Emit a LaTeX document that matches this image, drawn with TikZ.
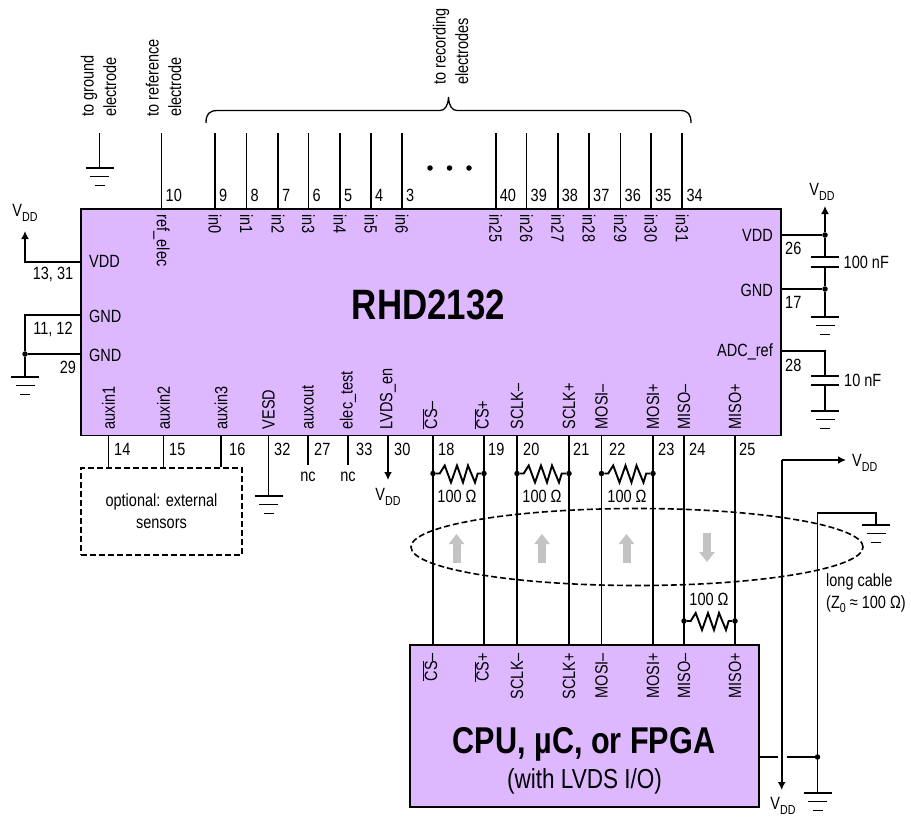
\documentclass[tikz,border=0pt]{standalone}
\usepackage{fontspec}
\setmainfont[FakeStretch=0.82]{Liberation Sans}
\usetikzlibrary{arrows.meta,shapes.geometric}
\definecolor{chipfill}{RGB}{221,184,255}
\definecolor{flowgrey}{RGB}{195,195,195}
\newcommand{\vddlabel}{V\raisebox{-.28em}{\fontsize{13}{13}\selectfont DD}}
\newcommand{\csbar}{$\overline{\hbox{CS}}$}
\tikzset{
  wire/.style={line width=1.9pt,line cap=butt},
  chip/.style={draw,line width=1.8pt,fill=chipfill,inner sep=0pt,rectangle},
  txt/.style={inner sep=0pt,font=\fontsize{17.7}{20}\selectfont},
  pinnum/.style={txt,anchor=west},
  uplabel/.style={txt,rotate=90,anchor=west},
  cpulabel/.style={txt,rotate=90,anchor=east},
  downlabel/.style={txt,rotate=-90,anchor=west},
  arrowwire/.style={wire,-{Latex[length=8pt,width=8pt]}},
  dot/.style={circle,fill=black,inner sep=0pt,minimum size=5.5pt},
  capplate/.style={line width=1.8pt},
  longdash/.style={dash pattern=on 6pt off 3pt},
  zig/.style={insert path={-- ++(6.7,0) -- ++(5,-8) -- ++(6.3,17) -- ++(6,-17) -- ++(6,17) -- ++(5,-17) -- ++(7,17) -- ++(2.7,-9)}},
  gnd/.pic={
    \draw[line width=1.8pt] (-14,0) -- (14,0);
    \draw[line width=1.8pt] (-9.5,8.5) -- (9.5,8.5);
    \draw[line width=1.8pt] (-5,17.5) -- (5,17.5);
  },
  flow/.style={line width=8pt,flowgrey,-{Triangle[length=10pt,width=15pt]}},
}
\begin{document}
\begin{tikzpicture}[x=1pt,y=-1pt]
\useasboundingbox (0,0) rectangle (911,817);
% main chip
\node[chip,minimum width=700pt,minimum height=226.5pt] (rhd) at (431,322.3) {};
\node[inner sep=0pt,font=\fontsize{42.5}{42.5}\selectfont\bfseries] (rhdname) at (428.5,305) {RHD2132};
% electrodes text
\node[txt,rotate=90,anchor=north west,align=left,font=\fontsize{17.7}{22.5}\selectfont] (tgnd) at (80.5,117) {to ground\\electrode};
\node[txt,rotate=90,anchor=north west,align=left,font=\fontsize{17.7}{22.5}\selectfont] (tref) at (145.5,117) {to reference\\electrode};
\node[txt,rotate=90,anchor=north west,align=left,font=\fontsize{17.7}{22.5}\selectfont] (trec) at (432.5,85) {to recording\\electrodes};
% brace
\draw[line width=1.3pt] (206,123) .. controls (206,114) and (209,110.5) .. (218,110.5) -- (440,110.5) .. controls (445,110.5) and (448,106) .. (448.5,97) .. controls (449,106) and (452,110.5) .. (457,110.5) -- (680,110.5) .. controls (688,110.5) and (691,114) .. (691,123);
% ground electrode
\coordinate (gtop) at (99.5,133);
\coordinate (gbase) at (99.5,168);
\draw[wire] (gtop) -- (gbase);
\pic at (gbase) {gnd};
% reference pin
\coordinate (top10) at (161.5,133);
\draw[wire] (top10) -- (top10 |- rhd.north);
\node[pinnum] (num10) at (165.5,195) {10};
\node[downlabel] (lab10) at (161.5,214.5) {ref\_elec};
% top pins
\foreach \x/\n/\l in {215/9/in0,246.5/8/in1,278/7/in2,308.5/6/in3,340/5/in4,371/4/in5,402/3/in6,495.7/40/in25,526.5/39/in26,557.7/38/in27,589/37/in28,620.5/36/in29,651/35/in30,682.3/34/in31}{
  \coordinate (top\n) at (\x,133);
  \draw[wire] (top\n) -- (top\n |- rhd.north);
  \node[pinnum] (num\n) at (\x+4,195) {\n};
  \node[downlabel] (lab\n) at (\x,214.5) {\l};
}
% ellipsis
\foreach \x/\n in {430/a,449.5/b,469/c}{
  \node[circle,fill=black,inner sep=0pt,minimum size=5.5pt] (ell\n) at (\x,168) {};
}
% left side
\coordinate (lvddcorner) at (25,262);
\coordinate (lvddtip) at (25,231);
\node[inner sep=0pt,txt] (lvdd) at (25,213) {\vddlabel};
\draw[arrowwire] (rhd.west |- lvddcorner) -- (lvddcorner) -- (lvddtip);
\node[txt,anchor=west] (plvdd) at (89,261) {VDD};
\node[txt,anchor=west] (plgnd1) at (89,316) {GND};
\node[txt,anchor=west] (plgnd2) at (89,355) {GND};
\node[txt] (n1331) at (53,274) {13, 31};
\node[txt] (n1112) at (53,329) {11, 12};
\node[txt] (n29) at (68,367) {29};
\coordinate (lg1) at (25,315);
\node[dot] (lg2) at (25,354) {};
\coordinate (lgb) at (25,377);
\draw[wire] (rhd.west |- lg1) -- (lg1) -- (lg2);
\draw[wire] (rhd.west |- lg2) -- (lg2) -- (lgb);
\pic at (lgb) {gnd};
% right side
\node[dot] (rv) at (825,235) {};
\node[dot] (rg) at (825,289) {};
\coordinate (rvtip) at (825,206);
\coordinate (c1a) at (825,257);
\coordinate (c1b) at (825,267);
\coordinate (rgb) at (825,317);
\draw[wire] (rhd.east |- rv) -- (rv);
\draw[wire] (rhd.east |- rg) -- (rg);
\draw[arrowwire] (rv) -- (rvtip);
\draw[wire] (rv) -- (c1a);
\draw[wire] (c1b) -- (rg) -- (rgb);
\draw[capplate] ([xshift=-14pt]c1a) -- ([xshift=14pt]c1a);
\draw[capplate] ([xshift=-14pt]c1b) -- ([xshift=14pt]c1b);
\pic at (rgb) {gnd};
\node[txt] (rvdd) at (822,192) {\vddlabel};
\node[txt,anchor=west] (cap1) at (843.5,262) {100 nF};
\node[txt,anchor=east] (prvdd) at (773,235) {VDD};
\node[txt,anchor=east] (prgnd) at (773,290) {GND};
\node[txt,anchor=east] (pradc) at (773,352) {ADC\_ref};
\node[txt,anchor=west] (n26) at (785,248) {26};
\node[txt,anchor=west] (n17) at (785,302) {17};
\node[txt,anchor=west] (n28) at (785,365) {28};
\coordinate (radc) at (825,351);
\coordinate (c2a) at (825,376);
\coordinate (c2b) at (825,385);
\coordinate (adcb) at (825,411);
\draw[wire] (rhd.east |- radc) -- (radc) -- (c2a);
\draw[wire] (c2b) -- (adcb);
\draw[capplate] ([xshift=-14pt]c2a) -- ([xshift=14pt]c2a);
\draw[capplate] ([xshift=-14pt]c2b) -- ([xshift=14pt]c2b);
\pic at (adcb) {gnd};
\node[txt,anchor=west] (cap2) at (844,380) {10 nF};
% sensors box
\node[draw,longdash,line width=1.6pt,minimum width=161pt,minimum height=87pt,inner sep=0pt,align=center,font=\fontsize{17.7}{22}\selectfont] (sens) at (161.5,511.5) {optional: external\\sensors};
% bottom labels, numbers
\foreach \x/\n/\nx/\lx/\l in {108.5/14/114/108.5/auxin1,163.5/15/169/163.5/auxin2,221/16/229/221/auxin3,268.5/32/274/268.5/VESD,308/27/314/308/auxout,348/33/356/348/elec\_test,388/30/394/388/LVDS\_en,433/18/438/430/{\csbar–},484/19/488/481.5/{\csbar+},517/20/523/517/SCLK–,569/21/573/569/SCLK+,601.5/22/609/601.5/MOSI–,653/23/658/653/MOSI+,684/24/689/684/MISO–,735/25/739/735/MISO+}{
  \coordinate (bot\n) at (\x,435.5);
  \node[pinnum] (num\n) at (\nx,449) {\n};
  \node[uplabel] (lab\n) at (\lx,429.5) {\l};
}
\foreach \n in {14,15,16}{\draw[wire] (bot\n) -- (bot\n |- sens.north);}
\coordinate (vesdb) at (268.5,496);
\draw[wire] (bot32) -- (vesdb);
\pic at (vesdb) {gnd};
\coordinate (nc1) at (308,464.5);
\coordinate (nc2) at (348,465);
\draw[wire] (bot27) -- (nc1);
\draw[wire] (bot33) -- (nc2);
\node[txt] (nct1) at (308,477) {nc};
\node[txt] (nct2) at (348,477) {nc};
\coordinate (lvdstip) at (388,480);
\draw[arrowwire] (bot30) -- (lvdstip);
\node[txt] (lvddb) at (388,497) {\vddlabel};
% CPU
\node[chip,minimum width=349pt,minimum height=161.5pt] (cpu) at (584.5,726) {};
\node[inner sep=0pt,font=\fontsize{37.3}{37.3}\selectfont\bfseries] (cpuname) at (584,744) {CPU, µC, or FPGA};
\node[inner sep=0pt,font=\fontsize{27.5}{27.5}\selectfont] (cpusub) at (584.5,781) {(with LVDS I/O)};
\foreach \n/\lx/\l in {18/430/{\csbar–},19/481.5/{\csbar+},20/517/SCLK–,21/569/SCLK+,22/601.5/MOSI–,23/653/MOSI+,24/684/MISO–,25/735/MISO+}{
  \draw[wire] (bot\n) -- (bot\n |- cpu.north);
  \node[cpulabel] (cl\n) at (\lx,653) {\l};
}
% resistors
\foreach \a/\b/\lx in {18/19/457,20/21/542,22/23/627}{
  \node[dot] (ra\a) at (bot\a |- 0,473.5) {};
  \node[dot] (rb\a) at (bot\b |- 0,473.5) {};
  \draw[wire] (ra\a) [zig] -- (rb\a);
  \node[txt] (rl\a) at (\lx,496) {100 Ω};
}
\node[dot] (ra24) at (bot24 |- 0,621) {};
\node[dot] (rb24) at (bot25 |- 0,621) {};
\draw[wire] (ra24) [zig] -- (rb24);
\node[txt] (rl24) at (709,599) {100 Ω};
% cable ellipse
\node[draw,longdash,line width=1.6pt,ellipse,minimum width=452pt,minimum height=77pt,inner sep=0pt] (cable) at (637,547) {};
% flow arrows
\foreach \x/\n in {456.5/a,542/b,626.5/c}{
  \coordinate (fs\n) at (\x,563);
  \coordinate (fe\n) at (\x,534);
  \draw[flow] (fs\n) -- (fe\n);
}
\coordinate (fsd) at (707,533);
\coordinate (fed) at (707,562);
\draw[flow] (fsd) -- (fed);
% right: cable power
\coordinate (vcorner) at (781.7,460);
\coordinate (vright) at (846,460);
\coordinate (vdown) at (781.7,790);
\draw[arrowwire] (vcorner) -- (vright);
\draw[arrowwire] (vcorner) -- (vdown);
\node[txt,anchor=west] (vrlab) at (852,463) {\vddlabel};
\node[txt] (vdlab) at (783,806) {\vddlabel};
\node[dot] (sj) at (817.5,757) {};
\coordinate (gapl) at (777.5,757);
\coordinate (gapr) at (787,757);
\draw[wire] (cpu.east |- sj) -- (gapl);
\draw[wire] (gapr) -- (sj);
\coordinate (shtop) at (817.5,512.7);
\coordinate (shbot) at (817.5,793);
\coordinate (shr) at (876,512.7);
\coordinate (shg) at (876,525);
\draw[wire] (shbot) -- (shtop) -- (shr) -- (shg);
\pic at (shg) {gnd};
\pic at (shbot) {gnd};
\node[txt,anchor=west] (lc1) at (826,582) {long cable};
\node[txt,anchor=west] (lc2) at (826,604) {(Z\raisebox{-.25em}{\fontsize{13}{13}\selectfont 0} ≈ 100 Ω)};
\end{tikzpicture}
\end{document}
